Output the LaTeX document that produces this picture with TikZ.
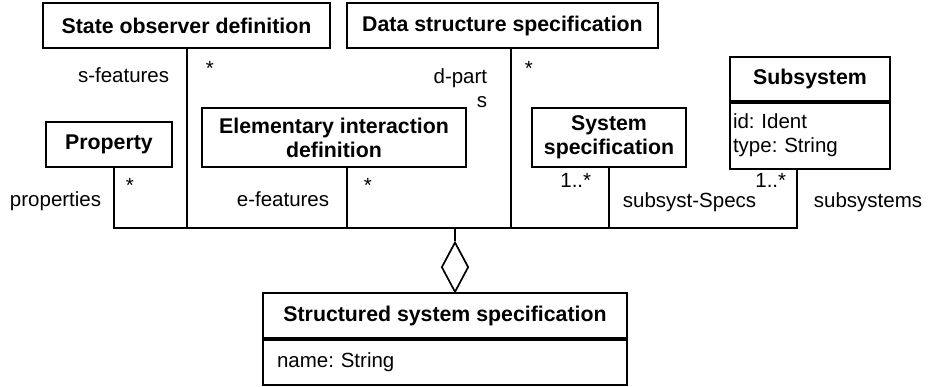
\documentclass[tikz,border=0pt]{standalone}
\usepackage{fontspec}
\setmainfont{Liberation Sans}
\usetikzlibrary{shapes.geometric, positioning}
\frenchspacing

\begin{document}
\begin{tikzpicture}[x=1pt, y=-1pt, line width=1.7pt,
            every node/.style={font=\fontsize{20.5}{24}\selectfont},
            cls/.style={draw, rectangle, inner sep=0pt, align=center, font=\fontsize{21.3}{24}\selectfont\bfseries},
            attr/.style={draw, rectangle, inner ysep=0pt, align=left, anchor=north},
            lbl/.style={inner sep=0pt}]

            \useasboundingbox (0,0) rectangle (928,387);

            \node[cls, minimum width=287, minimum height=45] (obs) at (186.5,25.5) {State observer definition};
            \node[cls, minimum width=311, minimum height=45] (data) at (502.5,25.5) {Data structure specification};
            \node[cls, minimum width=126, minimum height=45] (prop) at (109,144.5) {Property};
            \node[cls, minimum width=264, minimum height=59] (elem) at (334,137.5) {Elementary interaction\\definition};
            \node[cls, minimum width=154, minimum height=59] (sys) at (609,137.5) {System\\specification};
            \node[cls, minimum width=160, minimum height=44] (sub) at (810,79) {Subsystem};
            \node[attr, inner xsep=3pt, text width=154, minimum height=66] (subattr) at (sub.south) {id: Ident\\type: String};
            \node[cls, minimum width=364, minimum height=45] (struct) at (445,315.5) {Structured system specification};
            \node[attr, inner xsep=14pt, text width=336, minimum height=45] (structattr) at (struct.south) {name: String};

            \node[diamond, draw, inner sep=0pt, minimum width=27, minimum height=50, anchor=south] (agg) at (455,293) {};

            \coordinate (bprop) at (114,228);
            \coordinate (bobs) at (187,228);
            \coordinate (belem) at (347,228);
            \coordinate (bmid) at (455,228);
            \coordinate (bdata) at (511,228);
            \coordinate (bsys) at (609,228);
            \coordinate (bsub) at (797,228);

            \draw (prop.south -| bprop) -- (bprop) -- (bsub) -- (subattr.south -| bsub);
            \draw (obs.south -| bobs) -- (bobs);
            \draw (elem.south -| belem) -- (belem);
            \draw (data.south -| bdata) -- (bdata);
            \draw (sys.south -| bsys) -- (bsys);
            \draw (bmid) -- (agg.north);

            \node[lbl, anchor=base east] (sfeat) at (170,83) {s-features};
            \node[lbl, anchor=base west] (mobs) at (205,76) {*};
            \node[lbl, anchor=north east, align=right] (dpart) at (488,68) {d-part\\s};
            \node[lbl, anchor=base west] (mdata) at (524,76) {*};
            \node[lbl, anchor=base west] (mprop) at (125,193) {*};
            \node[lbl, anchor=base east] (props) at (102,207) {properties};
            \node[lbl, anchor=base east] (efeat) at (330,207) {e-features};
            \node[lbl, anchor=base west] (melem) at (363,193) {*};
            \node[lbl, anchor=base east] (msys) at (592,188) {1..*};
            \node[lbl, anchor=base west] (sspecs) at (622,208) {subsyst-Specs};
            \node[lbl, anchor=base east] (msub) at (787,188) {1..*};
            \node[lbl, anchor=base west] (subs) at (813,208) {subsystems};
        \end{tikzpicture}
\end{document}
